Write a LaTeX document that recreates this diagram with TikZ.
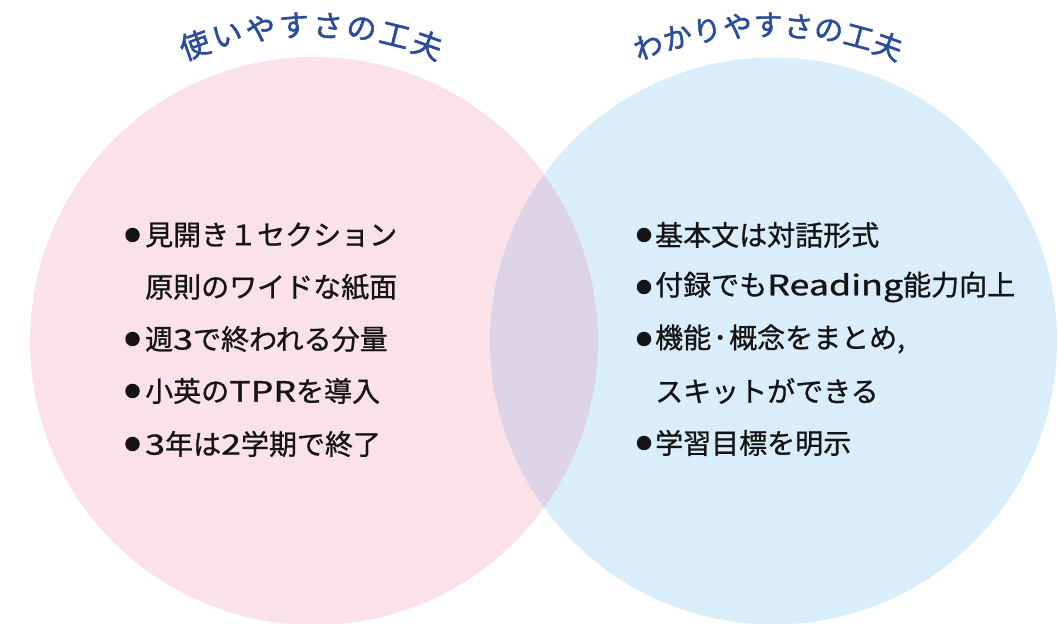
\documentclass[tikz,border=0pt]{standalone}
\usepackage{fontspec}
\setmainfont{Noto Sans CJK JP}
\newfontfamily\jpmed{Noto Sans CJK JP}[FakeBold=0.9]
\newfontfamily\jptitle{Noto Sans CJK JP}[FakeBold=1.6]
\definecolor{pinkc}{HTML}{FBE2E9}
\definecolor{bluec}{HTML}{DAEDFB}
\definecolor{overc}{HTML}{DCD4E6}
\definecolor{titlec}{HTML}{2B4C9B}
\definecolor{txtc}{HTML}{141414}
\newcommand{\wide}[1]{\scalebox{1.28}[1]{#1}}
\tikzset{
  item/.style={anchor=west, inner sep=0pt, text=txtc, font=\jpmed\fontsize{28}{28}\selectfont},
  dot/.style={circle, fill=txtc, inner sep=0pt, minimum size=14.5pt},
  ttlL/.style={inner sep=-1.5pt, text=titlec, font=\jptitle\fontsize{30}{30}\selectfont},
  ttlR/.style={inner sep=-1.5pt, text=titlec, font=\jptitle\fontsize{29}{29}\selectfont},
}
\begin{document}
\begin{tikzpicture}[x=1pt,y=1pt]
\useasboundingbox (0,0) rectangle (1058,624);
% circles
\fill[pinkc] (314,283) circle (284);
\fill[bluec] (773.5,283) circle (283.5);
\begin{scope}
  \clip (314,283) circle (284);
  \fill[overc] (773.5,283) circle (283.5);
\end{scope}
% left title on an arc
\foreach \c [count=\i from 0] in {使,い,や,す,さ,の,工,夫} {
  \pgfmathsetmacro{\a}{109.4-\i*38.8/7}
  \node[ttlL, rotate=\a-90] (tl\i) at ([shift={(\a:350)}]311,249) {\c};
}
% right title on an arc
\foreach \c [count=\i from 0] in {わ,か,り,や,す,さ,の,工,夫} {
  \pgfmathsetmacro{\a}{109.85-\i*39.7/8}
  \node[ttlR, rotate=\a-90] (tr\i) at ([shift={(\a:353)}]768,246) {\c};
}
% left items
\node[dot] (lb1) at (132.5,389) {};
\node[item] (l1) at (145,389) {見開き１セクション};
\node[item] (l2) at (145,337) {原則のワイドな紙面};
\node[dot] (lb3) at (132.5,285) {};
\node[item] (l3) at (145,285) {週\wide{3}で終われる分量};
\node[dot] (lb4) at (132.5,233) {};
\node[item] (l4) at (145,233) {小英の\wide{TPR}を導入};
\node[dot] (lb5) at (132.5,180) {};
\node[item] (l5) at (145,180) {\wide{3}年は\wide{2}学期で終了};
% right items
\node[dot] (rb1) at (644,389) {};
\node[item] (r1) at (655,389) {基本文は対話形式};
\node[dot] (rb2) at (644,337) {};
\node[item] (r2) at (655,337) {付録でも\wide{Reading}能力向上};
\node[dot] (rb3) at (644,285) {};
\node[item] (r3) at (655,285) {機能\kern2pt･\kern2pt概念をまとめ,};
\node[item] (r4) at (655,233) {スキットができる};
\node[dot] (rb5) at (644,181) {};
\node[item] (r5) at (655,181) {学習目標を明示};
\end{tikzpicture}
\end{document}
